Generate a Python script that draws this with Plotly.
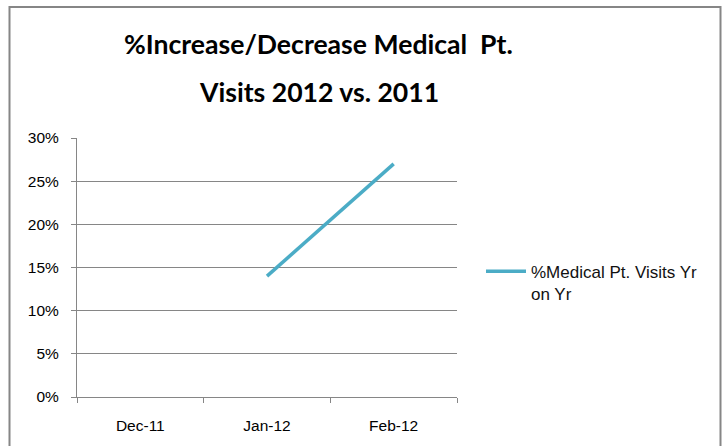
import plotly.graph_objects as go

categories = ["Dec-11", "Jan-12", "Feb-12"]
values = [None, 0.14, 0.27]
series_name = "%Medical Pt. Visits Yr<br>on Yr"
title_lines = ["%Increase/Decrease Medical&nbsp; Pt.", "Visits 2012 vs. 2011"]
y_ticks = [0, 0.05, 0.10, 0.15, 0.20, 0.25, 0.30]

W, H = 727, 446
L, R, T, B = 77, 270, 138, 46
pw, ph = W - L - R, H - T - B

def px_x(x):
    return (x - L) / pw

def px_y(y):
    return (H - B - y) / ph

TITLE_FONT = "Lato, sans-serif"
BODY_FONT = "Liberation Sans, Arial, sans-serif"

fig = go.Figure()
fig.add_trace(go.Scatter(
    x=categories, y=values, mode="lines", name=series_name,
    line=dict(color="#4bacc6", width=3.5), connectgaps=False,
))

annotations = [
    dict(text="<b>%s</b>" % title_lines[0], xref="paper", yref="paper",
         x=px_x(318), y=px_y(43), xanchor="center", yanchor="middle",
         showarrow=False, font=dict(family=TITLE_FONT, size=26.6, color="#000")),
    dict(text="<b>%s</b>" % title_lines[1], xref="paper", yref="paper",
         x=px_x(319), y=px_y(91), xanchor="center", yanchor="middle",
         showarrow=False, font=dict(family=TITLE_FONT, size=26.6, color="#000")),
]

fig.update_layout(
    width=W, height=H,
    margin=dict(l=L, r=R, t=T, b=B),
    paper_bgcolor="white", plot_bgcolor="white",
    font=dict(family=BODY_FONT, size=15, color="#000"),
    annotations=annotations,
    showlegend=True,
    legend=dict(x=px_x(481), y=px_y(255), xanchor="left", yanchor="top",
                valign="top",
                font=dict(size=17, family=BODY_FONT, color="#111"),
                bgcolor="rgba(0,0,0,0)", itemwidth=40),
    xaxis=dict(type="category", range=[-0.5, 2.5], showgrid=False,
               showline=True, linecolor="#868686", linewidth=1,
               ticks="outside", tickson="boundaries", ticklen=5, tickcolor="#868686",
               ticklabelstandoff=14,
               tickfont=dict(size=15.5, color="#000", family=BODY_FONT), fixedrange=True),
    yaxis=dict(range=[0, 0.30], tickvals=y_ticks,
               tickformat=".0%", showgrid=True, gridcolor="#868686", gridwidth=1,
               showline=True, linecolor="#868686", linewidth=1,
               ticks="outside", ticklen=5, tickcolor="#868686",
               ticklabelstandoff=9,
               tickfont=dict(size=15.5, color="#000", family=BODY_FONT),
               zeroline=False, fixedrange=True),
    shapes=[dict(type="rect", xref="paper", yref="paper",
                 x0=px_x(9.5), x1=px_x(720.5), y0=px_y(5.5), y1=px_y(460),
                 line=dict(color="#868686", width=2), fillcolor="rgba(0,0,0,0)",
                 layer="below")],
)

fig.write_html("out.html")
